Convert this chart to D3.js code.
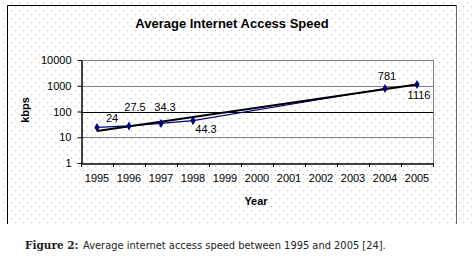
<!DOCTYPE html>
<html>
<head>
<meta charset="utf-8">
<script src="https://cdn.jsdelivr.net/npm/d3@7"></script>
<style>
  html, body { margin: 0; padding: 0; background: #fff; }
  svg { display: block; }
</style>
</head>
<body>
<div id="chart"></div>
<script>
// data
const years = ['1995', '1996', '1997', '1998', '1999', '2000', '2001', '2002', '2003', '2004', '2005'];
const speedYears = ['1995', '1996', '1997', '1998', '2004', '2005'];
const speedValues = [24, 27.5, 34.3, 44.3, 781, 1116];
const trendYears = ['1995', '2005'];
const trendValues = [17.5, 1120];
const yTicks = [1, 10, 100, 1000, 10000];

// label nudges (px) to match where the original placed its data labels
const labelNudge = [[15, -9], [6, -19], [4, -16], [13, 8], [2, -13], [2, 10]];

(function () {
  'use strict';
  const W = 474, H = 261;
  const svg = d3.select('#chart').append('svg').attr('width', W).attr('height', H);

  // dotted backdrop
  const defs = svg.append('defs');
  const pat = defs.append('pattern').attr('id', 'dots').attr('patternUnits', 'userSpaceOnUse')
    .attr('width', 8).attr('height', 8);
  pat.append('rect').attr('x', 3).attr('y', 2).attr('width', 1).attr('height', 1).attr('fill', '#b8b8b8');
  pat.append('rect').attr('x', 7).attr('y', 6).attr('width', 1).attr('height', 1).attr('fill', '#b8b8b8');
  svg.append('rect').attr('x', 0).attr('y', 0).attr('width', W).attr('height', 224).attr('fill', 'url(#dots)');

  // outer chart frame (bottom edge is cropped in the original)
  svg.append('path').attr('d', 'M7.5,224 V5.5 H456.5 V224').attr('fill', 'none').attr('stroke', '#000').attr('stroke-width', 1);
  svg.append('line').attr('x1', 456.5).attr('x2', 456.5).attr('y1', 5).attr('y2', 224).attr('stroke', '#666');

  const L = 81, R = 433, T = 60, B = 163;
  const x = d3.scaleBand().domain(years).range([L, R]);
  const y = d3.scaleLog().domain([1, 10000]).range([B, T]);
  const cx = d => x(d) + x.bandwidth() / 2;
  const font = "'Liberation Sans', Arial, sans-serif";

  // gridlines
  yTicks.slice(1).forEach(v => {
    svg.append('line').attr('x1', L).attr('x2', R).attr('y1', Math.round(y(v)) + 0.5).attr('y2', Math.round(y(v)) + 0.5)
      .attr('stroke', v === 100 ? '#000' : '#808080').attr('stroke-width', 1);
  });
  svg.append('line').attr('x1', R + 0.5).attr('x2', R + 0.5).attr('y1', T).attr('y2', B).attr('stroke', '#808080');

  // y axis
  const yAxis = svg.append('g').attr('transform', `translate(${L + 0.5},0)`)
    .call(d3.axisLeft(y).tickValues(yTicks).tickFormat(d3.format('d')).tickSize(4).tickSizeOuter(0));
  yAxis.select('.domain').attr('stroke', '#000').attr('stroke-width', 1.5);
  yAxis.selectAll('.tick line').attr('stroke', '#000');
  yAxis.selectAll('.tick text').attr('x', -10).style('font-family', font).style('font-size', '11px').attr('fill', '#000');

  // x axis
  const xAxis = svg.append('g').attr('transform', `translate(0,${B + 0.5})`)
    .call(d3.axisBottom(x).tickSize(0).tickSizeOuter(0));
  xAxis.select('.domain').attr('stroke', '#000').attr('stroke-width', 1.5);
  xAxis.selectAll('.tick text').attr('y', 11).style('font-family', font).style('font-size', '11px').attr('fill', '#000');
  svg.append('g').selectAll('line').data(years.concat(['end'])).enter().append('line')
    .attr('x1', (d, i) => L + i * x.bandwidth() + 0.5).attr('x2', (d, i) => L + i * x.bandwidth() + 0.5)
    .attr('y1', B).attr('y2', B + 4).attr('stroke', '#000');

  // axis titles + chart title
  svg.append('text').attr('x', 232).attr('y', 28).attr('text-anchor', 'middle')
    .style('font-family', font).style('font-size', '13px').style('font-weight', 'bold').text('Average Internet Access Speed');
  svg.append('text').attr('x', 256).attr('y', 205).attr('text-anchor', 'middle')
    .style('font-family', font).style('font-size', '11px').style('font-weight', 'bold').text('Year');
  svg.append('text').attr('transform', 'translate(29,110) rotate(-90)').attr('text-anchor', 'middle')
    .style('font-family', font).style('font-size', '11px').style('font-weight', 'bold').text('kbps');

  // measured series (navy, diamonds)
  const pts = speedYears.map((yr, i) => ({ yr, v: speedValues[i] }));
  const line = d3.line().x(d => cx(d.yr)).y(d => y(d.v));
  svg.append('path').datum(pts).attr('fill', 'none').attr('stroke', '#000080').attr('stroke-width', 1.2).attr('d', line);

  // trend line (black)
  const tpts = trendYears.map((yr, i) => ({ yr, v: trendValues[i] }));
  svg.append('path').datum(tpts).attr('fill', 'none').attr('stroke', '#000').attr('stroke-width', 2).attr('d', line);

  svg.append('g').selectAll('path').data(pts).enter().append('path')
    .attr('d', d3.symbol(d3.symbolDiamond, 24))
    .attr('transform', d => `translate(${cx(d.yr)},${y(d.v)})`)
    .attr('fill', '#000080');

  svg.append('g').selectAll('text').data(pts).enter().append('text')
    .attr('x', (d, i) => cx(d.yr) + labelNudge[i][0])
    .attr('y', (d, i) => y(d.v) + labelNudge[i][1] + 4)
    .attr('text-anchor', 'middle')
    .style('font-family', font).style('font-size', '11px').attr('fill', '#000')
    .text(d => d.v);

  // figure caption
  const cap = svg.append('text').attr('x', 25).attr('y', 249).attr('fill', '#222');
  cap.append('tspan').style('font-family', "'DejaVu Serif', serif").style('font-size', '10.5px').style('font-weight', 'bold').text('Figure 2:');
  cap.append('tspan').attr('x', 83).style('font-family', "'DejaVu Sans', Verdana, sans-serif").style('font-size', '9.9px')
    .text('Average internet access speed between 1995 and 2005 [24].');
})();
</script>
</body>
</html>
